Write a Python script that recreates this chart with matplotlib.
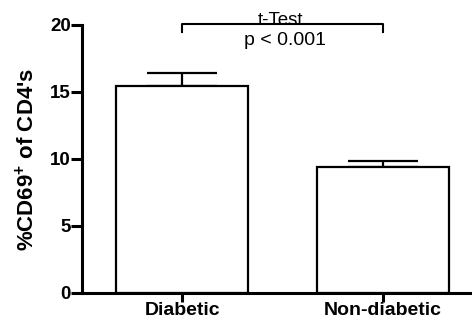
import matplotlib
matplotlib.use("Agg")
import matplotlib.pyplot as plt

plt.rcParams['font.family'] = ['Liberation Sans', 'DejaVu Sans']
plt.rcParams['mathtext.fontset'] = 'custom'
plt.rcParams['mathtext.bf'] = 'Liberation Sans:bold'
plt.rcParams['mathtext.rm'] = 'Liberation Sans'

# data
groups = ['Diabetic', 'Non-diabetic']
means = [15.45, 9.4]
sem = [0.97, 0.45]
yticks = [0, 5, 10, 15, 20]
test_name = 't-Test'
p_text = 'p < 0.001'
bracket_y = 20.07
bracket_drop = 0.6

fig = plt.figure(figsize=(4.72, 3.22), dpi=100)
ax = fig.add_axes([0.1737, 0.0901, 0.8263, 0.8323])

x = list(range(len(groups)))
ax.bar(x, means, width=0.66, color='white', edgecolor='black', linewidth=1.6, zorder=2)
ax.errorbar(x, means, yerr=[[0] * len(sem), sem], fmt='none', ecolor='black',
            elinewidth=1.6, capsize=25, capthick=1.6, zorder=1)

ax.set_xlim(-0.5, 1.445)
ax.set_ylim(0, 20)
ax.set_yticks(yticks)
ax.set_xticks(x)
ax.set_xticklabels(groups, fontsize=14, fontweight='bold')
ax.set_yticklabels([str(t) for t in yticks], fontsize=13.5, fontweight='bold')
ax.set_ylabel("%CD69$^{\\mathbf{+}}$ of CD4's", fontsize=16, fontweight='bold', labelpad=8)

for s in ['top', 'right']:
    ax.spines[s].set_visible(False)
for s in ['left', 'bottom']:
    ax.spines[s].set_linewidth(2.2)
ax.tick_params(axis='y', width=2.2, length=8, pad=0)
ax.tick_params(axis='x', width=2.2, length=6.5, pad=0)

# significance bracket
ax.plot([x[0], x[0], x[1], x[1]],
        [bracket_y - bracket_drop, bracket_y, bracket_y, bracket_y - bracket_drop],
        color='black', lw=1.5, clip_on=False)
ax.text(0.49, bracket_y - 0.05, test_name, ha='center', va='baseline', fontsize=13.5)
ax.text(0.51, bracket_y - 0.6, p_text, ha='center', va='top', fontsize=14)

fig.savefig('out.png', dpi=100)
